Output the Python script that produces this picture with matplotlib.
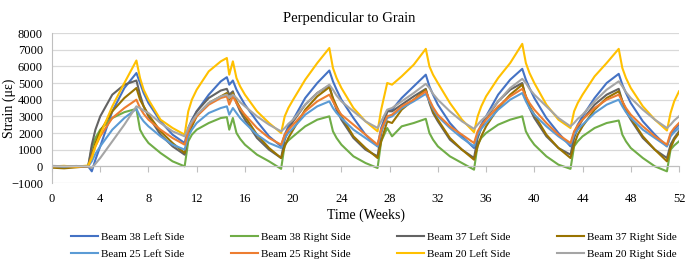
#------------------------------------------------------------------
#-------------------- Imports and settings ------------------------
#------------------------------------------------------------------
import matplotlib
matplotlib.use('Agg')
from matplotlib import pyplot as plt

plt.rcParams['font.family'] = ['Liberation Serif', 'DejaVu Serif']

#------------------------------------------------------------------
#-------------------- Data ----------------
#------------------------------------------------------------------
weeks = [0, 1, 2, 3,
         3.3, 3.6, 4, 5, 6, 7,
         7.3, 7.6, 8, 9, 10, 11,
         11.3, 11.6, 12, 13, 14,
         14.5, 14.7, 15,
         15.3, 15.6, 16, 17, 18, 19,
         19.3, 19.6, 20, 21, 22, 23,
         23.3, 23.6, 24, 25, 26, 27,
         27.3, 27.8, 28.2, 29, 30, 31,
         31.3, 31.6, 32, 33, 34, 35,
         35.3, 35.6, 36, 37, 38, 39,
         39.3, 39.6, 40, 41, 42, 43,
         43.3, 43.6, 44, 45, 46, 47,
         47.3, 47.6, 48, 49, 50, 51,
         51.3, 51.6, 52]

beam38_left = [-50, 0, -30, 0,
               -300, 400, 1200, 3300, 4700, 5600,
               5000, 4400, 3800, 2700, 1900, 1400,
               2300, 2800, 3300, 4300, 5100,
               5350, 4900, 5150,
               4600, 4200, 3700, 2700, 1800, 1200,
               1900, 2400, 2800, 4100, 5000, 5750,
               5100, 4600, 4000, 2900, 1900, 1200,
               2300, 3300, 3400, 4100, 4800, 5500,
               4800, 4300, 3700, 2600, 1800, 1100,
               2000, 2500, 3000, 4300, 5200, 5850,
               5200, 4700, 4100, 2900, 2000, 1200,
               2000, 2500, 3000, 4100, 5000, 5550,
               4900, 4400, 3800, 2700, 1900, 1200,
               1900, 2200, 2500]

beam38_right = [0, -30, 10, 0,
                1100, 1700, 2200, 2900, 3250, 3450,
                2200, 1800, 1400, 800, 300, 0,
                1500, 1900, 2200, 2600, 2900,
                2950, 2200, 2900,
                2000, 1650, 1300, 700, 300, -150,
                1300, 1550, 1800, 2400, 2800, 3000,
                2100, 1700, 1300, 600, 200, -100,
                1500, 2300, 1800, 2400, 2600, 2850,
                2000, 1600, 1200, 600, 200, -200,
                1300, 1700, 2000, 2500, 2800, 3000,
                2100, 1700, 1300, 600, 100, -150,
                1200, 1500, 1800, 2300, 2600, 2750,
                1900, 1500, 1100, 500, 0, -300,
                1000, 1250, 1500]

beam37_left = [0, -40, 20, 0,
               1300, 2200, 3000, 4300, 4900, 5150,
               4300, 3600, 3000, 1900, 1200, 700,
               2000, 2700, 3300, 4100, 4550,
               4650, 4300, 4500,
               3800, 3300, 2800, 1700, 1000, 500,
               1600, 2200, 2700, 3700, 4400, 4850,
               4000, 3400, 2800, 1700, 1000, 600,
               2000, 3300, 3300, 3700, 4200, 4650,
               3800, 3200, 2700, 1600, 1000, 500,
               1700, 2300, 2900, 3900, 4600, 5000,
               4100, 3500, 2900, 1800, 1100, 700,
               1700, 2300, 2800, 3700, 4300, 4650,
               3900, 3300, 2800, 1700, 1000, 500,
               1300, 1700, 2100]

beam37_right = [-80, -120, -60, 0,
                700, 1400, 2100, 3300, 4100, 4700,
                4000, 3600, 3100, 2100, 1400, 800,
                1800, 2400, 3000, 3800, 4200,
                4400, 4000, 4400,
                3900, 3500, 3000, 1900, 1100, 500,
                1200, 1700, 2200, 3400, 4200, 4750,
                4100, 3600, 3000, 1800, 1100, 500,
                1500, 2700, 2600, 3400, 4000, 4600,
                3900, 3300, 2800, 1700, 1000, 400,
                1200, 1800, 2400, 3500, 4300, 4900,
                4200, 3600, 3100, 1900, 1100, 500,
                1300, 1900, 2400, 3400, 4100, 4500,
                3900, 3400, 2900, 1800, 1000, 300,
                1100, 1600, 2000]

beam25_left = [0, -20, 10, 0,
               300, 750, 1200, 2200, 2900, 3450,
               3000, 2700, 2400, 1800, 1300, 1000,
               1800, 2200, 2600, 3200, 3500,
               3600, 3100, 3500,
               3200, 2900, 2600, 1900, 1400, 1100,
               1700, 2000, 2300, 3100, 3600, 3900,
               3500, 3200, 2900, 2200, 1700, 1200,
               2100, 2900, 3000, 3500, 3900, 4350,
               3900, 3450, 3000, 2300, 1700, 1200,
               1900, 2250, 2600, 3400, 4000, 4400,
               3900, 3500, 3100, 2400, 1800, 1300,
               1900, 2200, 2500, 3200, 3700, 4000,
               3600, 3250, 2900, 2200, 1700, 1200,
               1800, 2050, 2300]

beam25_right = [0, 20, -20, 0,
                600, 1200, 1800, 2900, 3500, 4000,
                3500, 3150, 2800, 2200, 1700, 1300,
                2100, 2600, 3000, 3700, 4100,
                4200, 3700, 4200,
                3800, 3450, 3100, 2300, 1700, 1300,
                1900, 2200, 2500, 3300, 3900, 4300,
                3900, 3500, 3100, 2500, 1900, 1300,
                2200, 3000, 3100, 3600, 4000, 4500,
                4000, 3550, 3100, 2400, 1900, 1400,
                2100, 2450, 2800, 3600, 4200, 4650,
                4200, 3800, 3400, 2600, 1900, 1400,
                2100, 2450, 2800, 3500, 4000, 4300,
                3900, 3500, 3100, 2400, 1800, 1300,
                2000, 2300, 2600]

beam20_left = [0, 30, -20, 50,
               500, 1200, 1900, 3600, 5000, 6350,
               5300, 4600, 4000, 2800, 2300, 1900,
               3300, 4000, 4600, 5700, 6300,
               6500, 5500, 6300,
               5300, 4800, 4300, 3300, 2600, 2000,
               3000, 3500, 4000, 5200, 6200, 7100,
               5900, 5300, 4700, 3500, 2700, 2100,
               3400, 5000, 4900, 5400, 6100, 7050,
               6000, 5500, 5000, 3800, 2800, 2050,
               3000, 3600, 4200, 5300, 6200, 7350,
               6200, 5600, 5000, 3700, 2800, 2300,
               3300, 3800, 4300, 5400, 6200, 7050,
               5900, 5300, 4700, 3600, 2800, 2150,
               3200, 3900, 4500]

beam20_right = [30, 0, 20, 0,
                -100, 150, 500, 1500, 2500, 3600,
                3500, 3350, 3200, 2600, 2100, 1800,
                2300, 2700, 3100, 3800, 4200,
                4300, 4100, 4300,
                4100, 3850, 3600, 3000, 2500, 2100,
                2300, 2550, 2800, 3700, 4400, 4900,
                4600, 4250, 3900, 3300, 2700, 2300,
                2700, 3400, 3500, 3900, 4400, 4950,
                4700, 4350, 4000, 3300, 2700, 2250,
                2500, 2750, 3000, 3900, 4700, 5250,
                5000, 4650, 4300, 3600, 2900, 2400,
                2600, 2850, 3100, 3900, 4600, 5100,
                4800, 4450, 4100, 3400, 2800, 2300,
                2500, 2750, 3000]

series = [('Beam 38 Left Side', beam38_left, '#4472C4'),
          ('Beam 38 Right Side', beam38_right, '#70AD47'),
          ('Beam 37 Left Side', beam37_left, '#636363'),
          ('Beam 37 Right Side', beam37_right, '#997300'),
          ('Beam 25 Left Side', beam25_left, '#5B9BD5'),
          ('Beam 25 Right Side', beam25_right, '#ED7D31'),
          ('Beam 20 Left Side', beam20_left, '#FFC000'),
          ('Beam 20 Right Side', beam20_right, '#A5A5A5')]

x_ticks = list(range(0, 53, 4))
y_ticks = list(range(-1000, 8001, 1000))

#------------------------------------------------------------------
#-------------------- Chart ---------------------------------------
#------------------------------------------------------------------
fig, ax = plt.subplots(figsize=(6.99, 2.62), dpi=100)
fig.subplots_adjust(left=0.0744, right=0.9714, bottom=0.3015, top=0.874)

handles = []
for name, values, color in series:
    line, = ax.plot(weeks, values, color=color, lw=1.5, label=name)
    handles.append(line)

ax.set_xlim(0, 52)
ax.set_ylim(-1000, 8000)
ax.set_yticks(y_ticks)
ax.grid(axis='y', color='#D9D9D9', lw=0.9)
ax.set_axisbelow(True)

for lado in ['top', 'right']:
    ax.spines[lado].set_visible(False)
ax.spines['left'].set_color('#BFBFBF')
ax.spines['bottom'].set_color('#BFBFBF')
ax.spines['bottom'].set_position(('data', 0))

ax.set_xticks(x_ticks)
ax.tick_params(axis='x', length=4, color='#BFBFBF', labelbottom=False)
ax.tick_params(axis='y', length=0, labelsize=9, pad=6.5)

# tick labels of the horizontal axis sit at the bottom (Excel style)
sec = ax.secondary_xaxis(0)
sec.set_xticks(x_ticks)
sec.tick_params(length=0, labelsize=9, pad=7)
sec.spines['bottom'].set_visible(False)
sec.set_xlabel('Time (Weeks)', fontsize=10, labelpad=3)

ax.set_ylabel('Strain (με)', fontsize=10)
ax.yaxis.set_label_coords(-0.057, 0.5)
# title is centred on the whole figure, like in Excel
fig.suptitle('Perpendicular to Grain', fontsize=10.5, x=0.5, y=0.931, va='center')

ordem = [0, 4, 1, 5, 2, 6, 3, 7]
fig.legend([handles[i] for i in ordem], [series[i][0] for i in ordem],
           ncol=4, loc='center', bbox_to_anchor=(0.535, 0.063), frameon=False,
           fontsize=8, handlelength=2.4, handletextpad=0.3,
           columnspacing=4.2, labelspacing=0.6)

plt.savefig('out.png', dpi=100)
